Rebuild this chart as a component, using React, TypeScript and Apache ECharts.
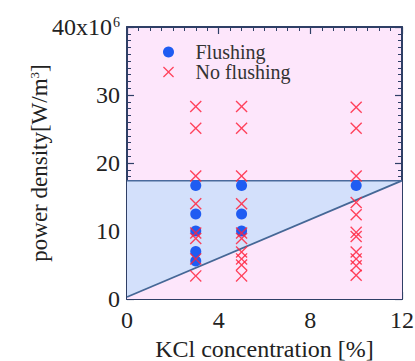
import React, { useEffect, useRef } from "react";
import * as echarts from "echarts";

// ---- data ----
const concentrations = [3, 5, 10];
const flushing3 = [16.7, 12.5, 10.0, 7.0, 5.6];
const flushing5 = [16.7, 12.5, 10.0];
const flushing10 = [16.7];
const noFlushing3 = [28.3, 25.1, 18.1, 14.0, 9.7, 8.9, 5.9, 3.4];
const noFlushing5 = [28.3, 25.1, 18.1, 14.0, 9.7, 8.9, 6.9, 5.9, 5.0, 3.4];
const noFlushing10 = [28.2, 25.1, 18.1, 14.2, 12.4, 9.8, 9.2, 6.9, 5.9, 4.9, 3.5];
const thresholdLine = [[0, 17.4], [12, 17.4]];
const boundaryLine = [[0, 0.3], [12, 17.4]];
const xTicks = [0, 4, 8, 12];
const yTicks = [0, 10, 20, 30, 40];

const FONT = "Liberation Serif";
const CROSS =
  "path://M0,8L8,0L50,42L92,0L100,8L58,50L100,92L92,100L50,58L8,100L0,92L42,50Z";

function pairs(x: number, ys: number[]) {
  return ys.map((y) => [x, y]);
}

export default function App() {
  const ref = useRef<HTMLDivElement>(null);
  useEffect(() => {
    const chart = echarts.init(ref.current!, undefined, { renderer: "svg" });
    const flushData = [
      ...pairs(concentrations[0], flushing3),
      ...pairs(concentrations[1], flushing5),
      ...pairs(concentrations[2], flushing10),
    ];
    const noFlushData = [
      ...pairs(concentrations[0], noFlushing3),
      ...pairs(concentrations[1], noFlushing5),
      ...pairs(concentrations[2], noFlushing10),
    ];
    const axisColor = "#2f3f66";
    const txt = (size: number, color = "#222222") => ({
      fontFamily: FONT,
      fontSize: size,
      fontWeight: "normal",
      fontStyle: "normal",
      color,
    });
    const frameAxis = {
      min: xTicks[0],
      max: xTicks[xTicks.length - 1],
      interval: 4,
      axisLine: { show: true, onZero: false, lineStyle: { color: axisColor, width: 2 } },
      axisTick: { show: true, inside: true, length: 7, lineStyle: { color: axisColor, width: 1.2 } },
      minorTick: { show: true, splitNumber: 8, length: 4, lineStyle: { color: axisColor, width: 1 } },
      splitLine: { show: false },
    };
    const frameYAxis = {
      min: yTicks[0],
      max: yTicks[yTicks.length - 1],
      interval: 10,
      axisLine: { show: true, onZero: false, lineStyle: { color: axisColor, width: 2 } },
      axisTick: { show: true, inside: true, length: 7, lineStyle: { color: axisColor, width: 1.2 } },
      minorTick: { show: true, splitNumber: 10, length: 4, lineStyle: { color: axisColor, width: 1 } },
      splitLine: { show: false },
    };
    chart.setOption({
      animation: false,
      backgroundColor: "#ffffff",
      textStyle: { fontFamily: FONT },
      grid: {
        left: 127,
        right: 13,
        top: 27,
        bottom: 62,
        containLabel: false,
        outerBoundsMode: "none",
        show: true,
        backgroundColor: "#fde6fb",
        borderWidth: 0,
      },
      legend: {
        orient: "vertical",
        left: 158,
        top: 37,
        itemWidth: 40,
        itemHeight: 11,
        itemGap: 0,
        data: [
          { name: "Flushing", icon: "circle", itemStyle: { color: "#1f5cf2" } },
          { name: "No flushing", icon: CROSS },
        ],
        formatter: (name: string) => "{t|" + name + "}",
        textStyle: {
          ...txt(20, "#333333"),
          rich: { t: { ...txt(20, "#333333"), lineHeight: 23, padding: [0, 0, 0, 2] } },
        },
      },
      xAxis: [
        {
          type: "value",
          position: "bottom",
          ...frameAxis,
          axisLabel: {
            show: true,
            margin: 9,
            ...txt(24),
            showMaxLabel: true,
            showMinLabel: true,
            formatter: (v: number) => "{t|" + v + "}",
            rich: { t: { ...txt(24), lineHeight: 24 } },
          },
          name: "{t|KCl concentration [%]}",
          nameLocation: "middle",
          nameGap: 40,
          nameMoveOverlap: false,
          nameTextStyle: { ...txt(24), rich: { t: { ...txt(24), lineHeight: 20 } } },
        },
        {
          type: "value",
          position: "top",
          ...frameAxis,
          axisLabel: { show: false },
        },
      ],
      yAxis: [
        {
          type: "value",
          position: "left",
          ...frameYAxis,
          axisLabel: {
            show: true,
            margin: 7,
            ...txt(24),
            formatter: (v: number) =>
              v === 40 ? "{b|40x10}{sup|6}" : "{b|" + v + "}",
            rich: {
              b: { ...txt(24), lineHeight: 24, verticalAlign: "bottom" },
              sup: {
                ...txt(14),
                lineHeight: 14,
                verticalAlign: "top",
                padding: [0, 0, 16, 1],
              },
            },
          },
          name: "{t|power density[W/m}{sup|3}{t|]}",
          nameLocation: "middle",
          nameRotate: 90,
          nameGap: 76,
          nameMoveOverlap: false,
          nameTextStyle: {
            ...txt(23),
            rich: {
              t: { ...txt(23), lineHeight: 23, verticalAlign: "bottom" },
              sup: {
                ...txt(13),
                lineHeight: 13,
                verticalAlign: "top",
                padding: [0, 0, 12, 0],
              },
            },
          },
        },
        {
          type: "value",
          position: "right",
          ...frameYAxis,
          axisLabel: { show: false },
        },
      ],
      series: [
        {
          name: "threshold",
          type: "line",
          data: thresholdLine,
          symbol: "none",
          lineStyle: { color: "#4a6a9c", width: 1.6 },
          areaStyle: { color: "#d3e0fb", opacity: 1, origin: "start" },
          z: 1,
          silent: true,
        },
        {
          name: "boundary",
          type: "line",
          data: boundaryLine,
          symbol: "none",
          lineStyle: { color: "#456796", width: 1.8 },
          areaStyle: { color: "#fde6fb", opacity: 1, origin: "start" },
          z: 2,
          silent: true,
        },
        {
          name: "Flushing",
          type: "scatter",
          data: flushData,
          symbol: "circle",
          symbolSize: 11,
          itemStyle: { color: "#1f5cf2", opacity: 1 },
          z: 3,
        },
        {
          name: "No flushing",
          type: "scatter",
          data: noFlushData,
          symbol: CROSS,
          symbolSize: 12,
          itemStyle: { color: "#ff2540", opacity: 0.85 },
          z: 4,
        },
      ],
    });
    return () => chart.dispose();
  }, []);
  return (
    <div
      ref={ref}
      style={{ position: "fixed", left: 0, top: 0, width: 415, height: 361 }}
    />
  );
}
